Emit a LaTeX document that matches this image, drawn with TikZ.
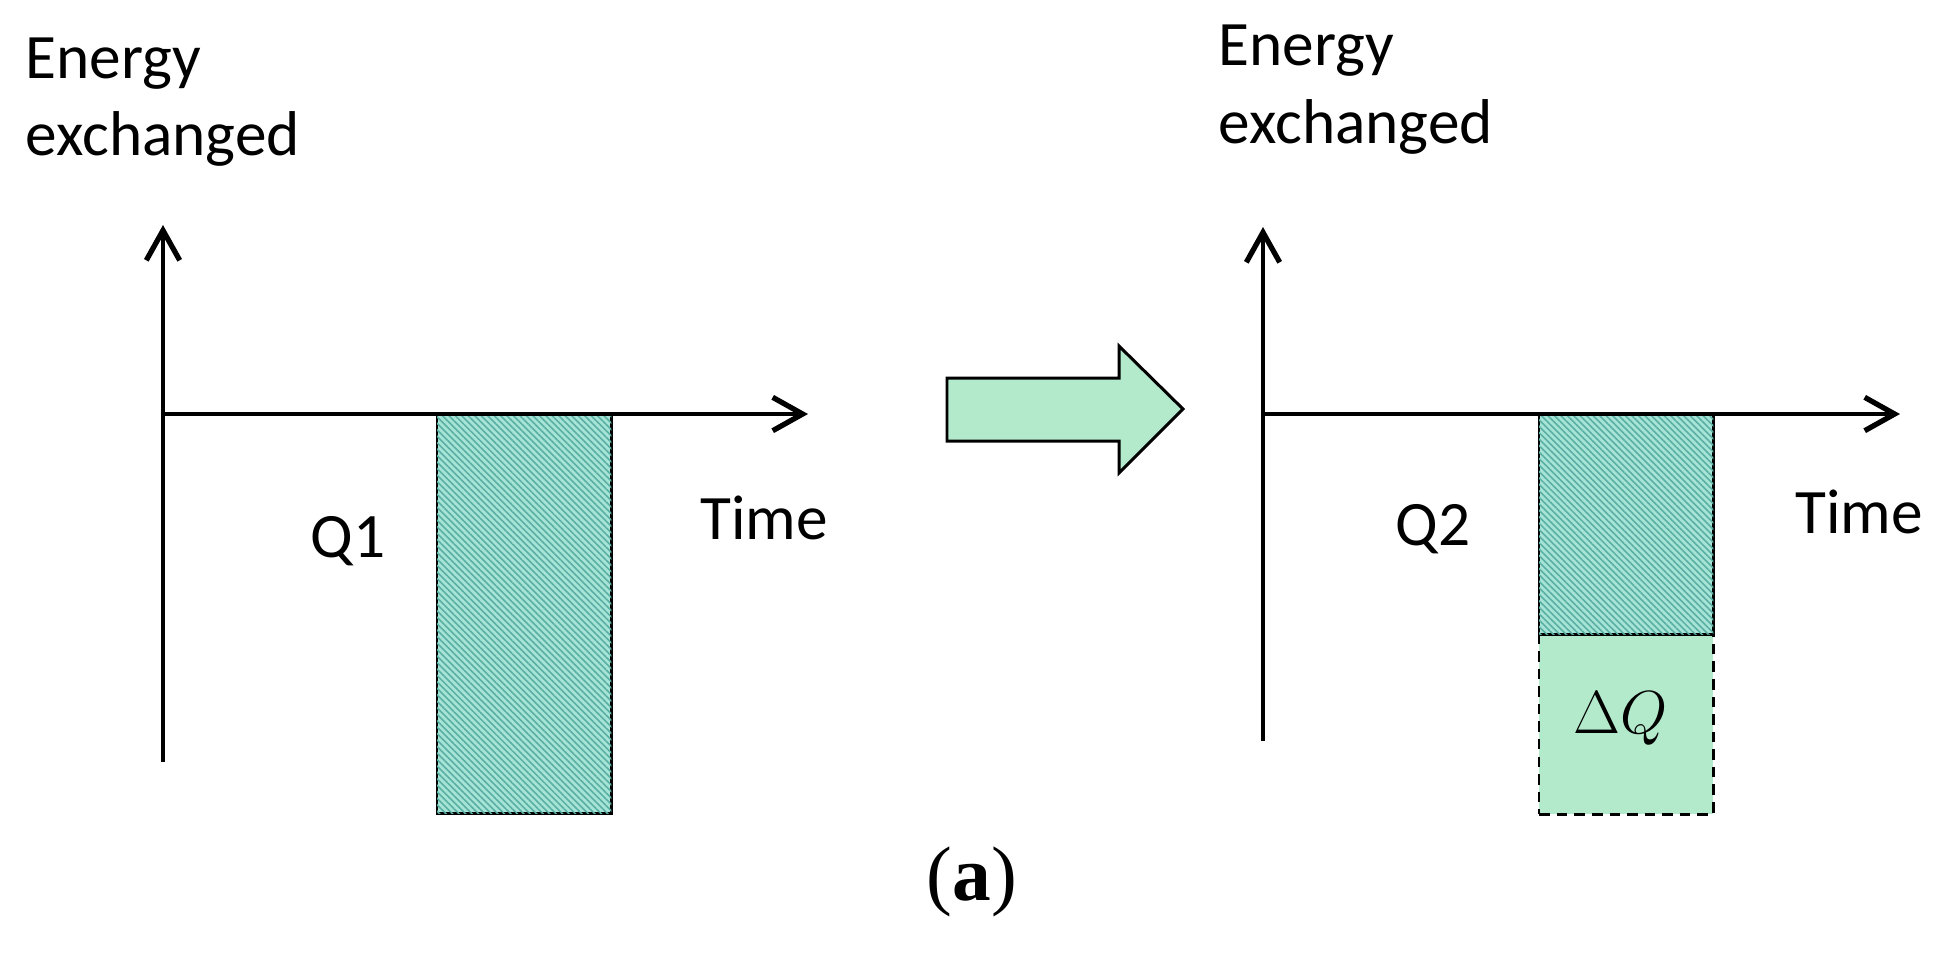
\documentclass[tikz,border=0pt]{standalone}
\usepackage{fontspec}
\setmainfont{Carlito}
\newfontfamily\timesf{Liberation Serif}
\usetikzlibrary{arrows.meta,patterns.meta}
\definecolor{hatchbg}{HTML}{A6E4D6}
\definecolor{hatchln}{HTML}{5AAEA4}
\definecolor{lightgreen}{HTML}{B3EACB}
\begin{document}
\begin{tikzpicture}[x=0.01cm,y=-0.01cm,
  axis/.style={line width=1.35pt, -{Straight Barb[length=8.5pt,width=9.5pt,line width=1.5pt]}},
  lbl/.style={font=\fontsize{18}{22}\selectfont, inner sep=0pt},
  hatchbox/.style={draw, line width=0.7pt, fill=hatchbg, inner sep=0pt,
    postaction={pattern={Lines[angle=-45,distance=1.3pt,line width=0.45pt]}, pattern color=hatchln}},
  deltabox/.style={draw, dashed, dash pattern=on 3pt off 2pt, line width=0.7pt, fill=lightgreen, inner sep=0pt},
  bigarrow/.style={draw, line width=0.85pt, fill=lightgreen, line join=miter}
]
\useasboundingbox (0,0) rectangle (1944,956);

% ---------- left chart ----------
\node (r1) [hatchbox, anchor=north west, minimum width=1.74cm, minimum height=3.98cm] at (436,414) {};
\coordinate (o1) at (163,414);
\coordinate (y1) at (163,225);
\coordinate (y1b) at (163,762);
\coordinate (x1) at (808,414);
\draw[axis] (y1b) -- (y1);
\draw[axis] (o1) -- (x1);
\node (e1a) [lbl, anchor=base west] at (25,78) {Energy};
\node (e1b) [lbl, anchor=base west] at (25,155) {exchanged};
\node (q1) [lbl, anchor=base] at (348,557) {Q1};
\node (t1) [lbl, anchor=base] at (764,539) {Time};

% ---------- big arrow ----------
\draw[bigarrow] (947,378) -- (1119,378) -- (1119,346) -- (1183,409) -- (1119,473) -- (1119,441) -- (947,441) -- cycle;

% ---------- right chart ----------
\node (d2) [deltabox, anchor=north west, minimum width=1.74cm, minimum height=1.80cm] at (1538,633) {};
\node (r2) [hatchbox, anchor=north west, minimum width=1.74cm, minimum height=2.19cm] at (1538,414) {};
\coordinate (o2) at (1263,414);
\coordinate (y2) at (1263,227);
\coordinate (y2b) at (1263,741);
\coordinate (x2) at (1900,414);
\draw[axis] (y2b) -- (y2);
\draw[axis] (o2) -- (x2);
\node (e2a) [lbl, anchor=base west] at (1218,65) {Energy};
\node (e2b) [lbl, anchor=base west] at (1218,143) {exchanged};
\node (q2) [lbl, anchor=base] at (1433,545) {Q2};
\node (t2) [lbl, anchor=base] at (1859,533) {Time};
\node (dq) [font=\fontsize{17.5}{21}\selectfont, inner sep=0pt, anchor=base] at (1621,733) {$\Delta Q$};

% ---------- caption ----------
\node (cap) [font=\fontsize{22}{26}\selectfont\timesf, inner sep=0pt] at (972,882) {({\bfseries a})};
\end{tikzpicture}
\end{document}
